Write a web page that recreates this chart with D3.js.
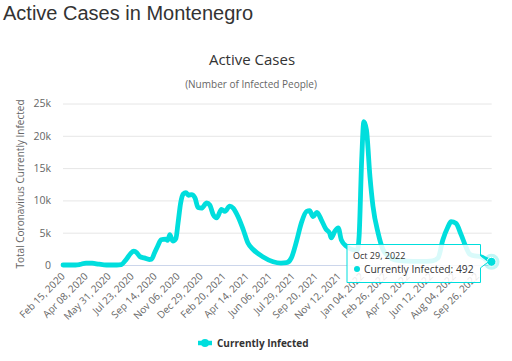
<!DOCTYPE html>
<html>
<head>
<meta charset="utf-8">
<script src="https://cdn.jsdelivr.net/npm/d3@7"></script>
<style>
  body { margin: 0; background: #fff; }
  svg { display: block; }
</style>
</head>
<body>
<div id="chart"></div>
<script>
// active cases (date -> currently infected)
const dates = [
  "2020-02-15", "2020-03-15", "2020-03-25", "2020-04-08", "2020-04-22", "2020-05-08", "2020-05-25",
  "2020-06-18", "2020-06-28", "2020-07-10", "2020-07-20", "2020-07-27", "2020-08-03", "2020-08-10",
  "2020-08-20", "2020-09-01", "2020-09-06", "2020-09-13", "2020-09-20", "2020-09-28", "2020-10-08",
  "2020-10-13", "2020-10-18", "2020-10-25", "2020-11-01", "2020-11-06", "2020-11-12", "2020-11-18",
  "2020-11-24", "2020-11-30", "2020-12-07", "2020-12-15", "2020-12-22", "2020-12-30", "2021-01-11",
  "2021-01-18", "2021-01-26", "2021-02-03", "2021-02-14", "2021-02-22", "2021-03-05", "2021-03-13",
  "2021-03-24", "2021-04-05", "2021-04-16", "2021-04-28", "2021-05-21", "2021-06-13", "2021-07-01",
  "2021-07-14", "2021-07-25", "2021-08-06", "2021-08-17", "2021-08-29", "2021-09-05", "2021-09-13",
  "2021-09-22", "2021-10-02", "2021-10-13", "2021-10-21", "2021-10-25", "2021-11-02", "2021-11-10",
  "2021-11-17", "2021-11-29", "2021-12-12", "2021-12-24", "2021-12-28", "2022-01-03", "2022-01-08",
  "2022-01-14", "2022-01-22", "2022-01-29", "2022-02-10", "2022-02-21", "2022-03-05", "2022-03-20",
  "2022-04-15", "2022-05-20", "2022-06-15", "2022-06-28", "2022-07-09", "2022-07-20", "2022-07-28",
  "2022-08-08", "2022-08-20", "2022-09-01", "2022-09-09", "2022-09-20", "2022-10-02", "2022-10-17",
  "2022-10-29"
];
const infected = [
  0, 0, 80, 300, 280, 120, 0,
  0, 60, 900, 1800, 2150, 1900, 1300,
  1100, 850, 900, 1900, 2900, 3900, 4000,
  3800, 4700, 3700, 4100, 6500, 9600, 11000,
  11200, 10800, 10900, 10400, 8900, 8800, 9600,
  9300, 7800, 7300, 8600, 8300, 9100, 8800,
  7500, 5500, 3400, 2400, 1250, 500, 300,
  350, 1100, 3700, 6500, 8300, 8400, 7500,
  8150, 7000, 5500, 4950, 4200, 5200, 5750,
  3900, 2900, 2400, 2300, 4400, 16300, 22200,
  20900, 13700, 9100, 4900, 2400, 1400, 800,
  600, 550, 650, 1100, 3900, 5800, 6700,
  6450, 4700, 2650, 1650, 1400, 1350, 850,
  492
];
const yTicks = [0, 5000, 10000, 15000, 20000, 25000];
const xTickLabels = [
  "Feb 15, 2020", "Apr 08, 2020", "May 31, 2020", "Jul 23, 2020", "Sep 14, 2020", "Nov 06, 2020",
  "Dec 29, 2020", "Feb 20, 2021", "Apr 14, 2021", "Jun 06, 2021", "Jul 29, 2021", "Sep 20, 2021",
  "Nov 12, 2021", "Jan 04, 2022", "Feb 26, 2022", "Apr 20, 2022", "Jun 12, 2022", "Aug 04, 2022",
  "Sep 26, 2022"
];
const seriesName = "Currently Infected";

const W = 512, H = 361;
const color = "#00dedd";
const font = "'Open Sans', 'DejaVu Sans', sans-serif";

const parse = d3.timeParse("%Y-%m-%d");
const parseTick = d3.timeParse("%b %d, %Y");
const fmtTip = d3.timeFormat("%b %d, %Y");
const data = dates.map((d, i) => ({ date: parse(d), value: infected[i] }));

const svg = d3.select("#chart").append("svg")
  .attr("width", W).attr("height", H)
  .style("font-family", font);

// page heading
svg.append("text")
  .attr("x", 3).attr("y", 20)
  .style("font-family", "'Liberation Sans', Arial, sans-serif")
  .style("font-size", "20px")
  .attr("fill", "#333")
  .text("Active Cases in Montenegro");

svg.append("text")
  .attr("x", 252).attr("y", 65)
  .attr("text-anchor", "middle")
  .style("font-size", "15px")
  .attr("fill", "#333")
  .text("Active Cases");

svg.append("text")
  .attr("x", 251).attr("y", 88)
  .attr("text-anchor", "middle")
  .style("font-size", "10px")
  .attr("fill", "#666")
  .text("(Number of Infected People)");

const x = d3.scaleTime()
  .domain(d3.extent(data, (d) => d.date))
  .range([63, 491.5]);
const y = d3.scaleLinear()
  .domain([0, 25000])
  .range([265, 103.5]);

// grid + y labels
const yAxis = svg.append("g")
  .attr("transform", "translate(63,0)")
  .call(d3.axisLeft(y).tickValues(yTicks)
    .tickSize(-(491.7 - 63))
    .tickPadding(12)
    .tickFormat((d) => (d === 0 ? "0" : d / 1000 + "k")));
yAxis.select(".domain").remove();
yAxis.selectAll(".tick line").attr("stroke", "#e6e6e6");
yAxis.selectAll(".tick text")
  .attr("fill", "#666")
  .style("font-size", "10.5px")
  .style("font-family", font);

svg.append("text")
  .attr("transform", "translate(24,184) rotate(-90)")
  .attr("text-anchor", "middle")
  .style("font-size", "10px")
  .attr("fill", "#666")
  .text("Total Coronavirus Currently Infected");

// x axis
const xAxis = svg.append("g")
  .attr("transform", "translate(0,265)")
  .call(d3.axisBottom(x)
    .tickValues(xTickLabels.map(parseTick))
    .tickSize(0)
    .tickFormat((d, i) => xTickLabels[i]));
xAxis.select(".domain").attr("stroke", "#ccd6eb").attr("d", "M63,0.5H491.7");
xAxis.selectAll(".tick text")
  .attr("fill", "#666")
  .style("font-size", "10px")
  .style("font-family", font)
  .attr("text-anchor", "end")
  .attr("dy", null)
  .attr("y", 0)
  .attr("transform", "translate(2,12) rotate(-45)");

// the series
const line = d3.line()
  .x((d) => x(d.date))
  .y((d) => y(d.value))
  .curve(d3.curveMonotoneX);

svg.append("path")
  .datum(data)
  .attr("d", line)
  .attr("fill", "none")
  .attr("stroke", color)
  .attr("stroke-width", 4.8)
  .attr("stroke-linejoin", "round")
  .attr("stroke-linecap", "round");

// hovered last point
const last = data[data.length - 1];
const px = x(last.date), py = y(last.value);
svg.append("circle").attr("cx", px).attr("cy", py).attr("r", 8)
  .attr("fill", color).attr("fill-opacity", 0.25);
svg.append("circle").attr("cx", px).attr("cy", py).attr("r", 4.5)
  .attr("fill", color).attr("stroke", "#fff").attr("stroke-width", 1);

// tooltip
const tip = svg.append("g");
const tx0 = 347, ty0 = 244.5, tx1 = 480.5, ty1 = 282.5;
tip.append("path")
  .attr("d", `M${tx0},${ty0}H${tx1}V${py - 6}L${px - 3},${py}L${tx1},${py + 6}V${ty1}H${tx0}Z`)
  .attr("fill", "rgba(255,255,255,0.85)")
  .attr("stroke", color)
  .attr("stroke-width", 1);
tip.append("text")
  .attr("x", 353).attr("y", 259)
  .style("font-size", "9px")
  .attr("fill", "#333")
  .text(fmtTip(last.date));
tip.append("circle").attr("cx", 357).attr("cy", 269).attr("r", 3).attr("fill", color);
tip.append("text")
  .attr("x", 364).attr("y", 272.5)
  .style("font-size", "10.3px")
  .attr("fill", "#333")
  .text(`${seriesName}: ${last.value}`);

// legend
const lg = svg.append("g");
lg.append("line").attr("x1", 198).attr("x2", 212).attr("y1", 343).attr("y2", 343)
  .attr("stroke", color).attr("stroke-width", 4.5);
lg.append("circle").attr("cx", 205).attr("cy", 343).attr("r", 4).attr("fill", color);
lg.append("text")
  .attr("x", 217).attr("y", 346.5)
  .style("font-size", "10px")
  .style("font-weight", "bold")
  .attr("fill", "#333")
  .text(seriesName);
</script>
</body>
</html>
